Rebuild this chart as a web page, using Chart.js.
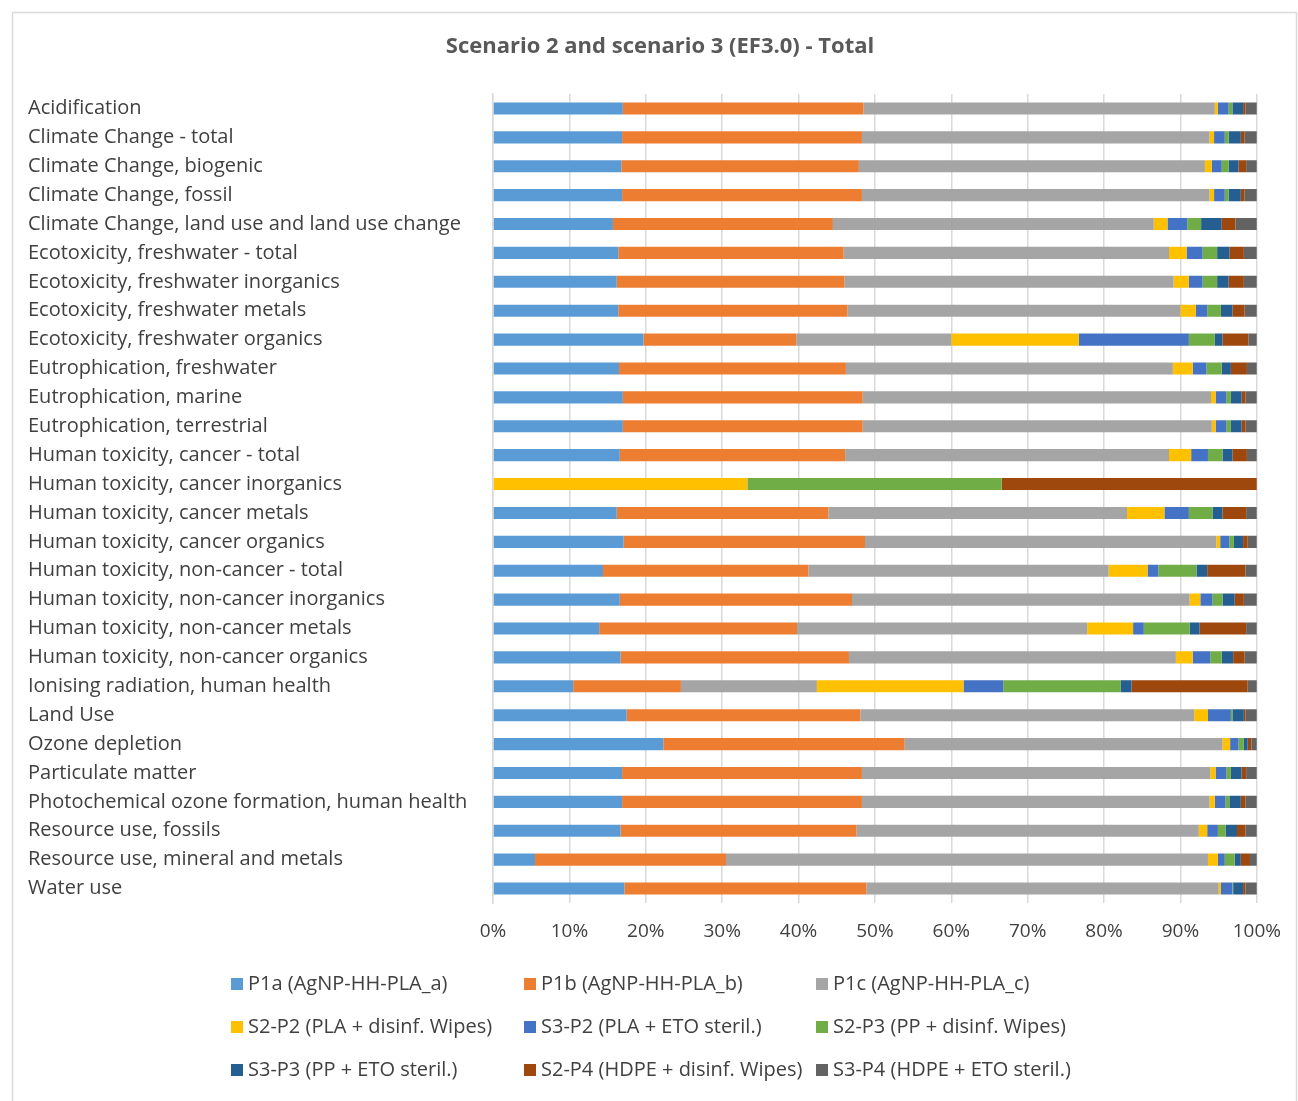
<!DOCTYPE html>
<html><head><meta charset="utf-8">
<script src="https://cdn.jsdelivr.net/npm/chart.js@4/dist/chart.umd.min.js"></script>
<style>html,body{margin:0;padding:0;background:#fff;}#wrap{position:relative;width:1298px;height:1101px;}</style>
</head><body><div id="wrap"><canvas id="c" width="1298" height="1101"></canvas></div>
<script>
const chartTitle = 'Scenario 2 and scenario 3 (EF3.0) - Total';
const categories = ["Acidification","Climate Change - total","Climate Change, biogenic","Climate Change, fossil","Climate Change, land use and land use change","Ecotoxicity, freshwater - total","Ecotoxicity, freshwater inorganics","Ecotoxicity, freshwater metals","Ecotoxicity, freshwater organics","Eutrophication, freshwater","Eutrophication, marine","Eutrophication, terrestrial","Human toxicity, cancer - total","Human toxicity, cancer inorganics","Human toxicity, cancer metals","Human toxicity, cancer organics","Human toxicity, non-cancer - total","Human toxicity, non-cancer inorganics","Human toxicity, non-cancer metals","Human toxicity, non-cancer organics","Ionising radiation, human health","Land Use","Ozone depletion","Particulate matter","Photochemical ozone formation, human health","Resource use, fossils","Resource use, mineral and metals","Water use"];
const seriesNames = ["P1a (AgNP-HH-PLA_a)","P1b (AgNP-HH-PLA_b)","P1c (AgNP-HH-PLA_c)","S2-P2 (PLA + disinf. Wipes)","S3-P2 (PLA + ETO steril.)","S2-P3 (PP + disinf. Wipes)","S3-P3 (PP + ETO steril.)","S2-P4 (HDPE + disinf. Wipes)","S3-P4 (HDPE + ETO steril.)"];
const P1a  = [17.0,16.9,16.8,16.9,15.7,16.4,16.2,16.4,19.7,16.5,17.0,17.0,16.6,0,16.2,17.1,14.4,16.6,13.9,16.7,10.5,17.5,22.3,16.9,16.9,16.7,5.5,17.2];
const P1b  = [31.5,31.4,31.1,31.4,28.8,29.5,29.8,30.0,20.0,29.7,31.4,31.4,29.5,0,27.7,31.6,26.9,30.4,25.9,29.9,14.1,30.6,31.6,31.4,31.4,30.9,25.0,31.7];
const P1c  = [46.0,45.5,45.3,45.5,42.0,42.6,43.1,43.6,20.3,42.8,45.6,45.7,42.4,0,39.1,46.0,39.3,44.2,38.0,42.8,17.8,43.7,41.6,45.6,45.5,44.8,63.1,46.1];
const S2P2 = [0.4,0.6,0.9,0.6,1.8,2.3,2.0,2.0,16.7,2.6,0.6,0.5,2.9,33.3,4.9,0.5,5.1,1.4,6.0,2.2,19.2,1.8,1.0,0.7,0.7,1.1,1.3,0.3];
const S3P2 = [1.4,1.4,1.3,1.4,2.6,2.1,1.8,1.5,14.4,1.8,1.4,1.4,2.2,0,3.2,1.2,1.4,1.6,1.4,2.3,5.2,3.0,1.1,1.4,1.4,1.4,0.9,1.5];
const S2P3 = [0.5,0.5,0.9,0.5,1.8,1.9,1.9,1.8,3.4,2.0,0.6,0.6,1.9,33.3,3.1,0.6,5.0,1.3,6.0,1.5,15.4,0.2,0.7,0.6,0.5,1.0,1.3,0.1];
const S3P3 = [1.4,1.6,1.3,1.6,2.7,1.6,1.5,1.5,1.0,1.2,1.4,1.4,1.3,0,1.3,1.2,1.4,1.6,1.3,1.5,1.4,1.5,0.5,1.4,1.5,1.5,0.8,1.3];
const S2P4 = [0.3,0.5,1.0,0.5,1.8,1.9,2.0,1.6,3.4,2.1,0.5,0.5,1.9,33.4,3.1,0.6,5.0,1.2,6.1,1.5,15.2,0.2,0.5,0.6,0.6,1.1,1.2,0.3];
const S3P4 = [1.5,1.6,1.4,1.6,2.8,1.7,1.7,1.6,1.1,1.3,1.5,1.5,1.3,0,1.4,1.2,1.5,1.7,1.4,1.6,1.2,1.5,0.7,1.4,1.5,1.5,0.9,1.5];
const colors = ["#5B9BD5","#ED7D31","#A5A5A5","#FFC000","#4472C4","#70AD47","#255E91","#9E480E","#636363"];
const seriesData = [P1a,P1b,P1c,S2P2,S3P2,S2P3,S3P3,S2P4,S3P4];

const FONT = "'Open Sans', 'Liberation Sans', sans-serif";

const borderPlugin = {
  id:'border',
  beforeDraw(chart){
    const ctx = chart.ctx;
    ctx.save();
    ctx.fillStyle = '#fff';
    ctx.fillRect(0,0,chart.width,chart.height);
    ctx.strokeStyle = '#d9d9d9';
    ctx.lineWidth = 1.5;
    ctx.strokeRect(12.5,12.5,1284,1100);
    ctx.restore();
  }
};

const titlePlugin = {
  id:'customTitle',
  afterDraw(chart){
    const ctx = chart.ctx;
    ctx.save();
    ctx.font = "bold 22px " + FONT;
    ctx.fillStyle = '#595959';
    ctx.textAlign = 'center';
    ctx.textBaseline = 'middle';
    ctx.fillText(chartTitle, 660, 47);
    ctx.restore();
  }
};

const legendPlugin = {
  id:'gridLegend',
  afterDraw(chart){
    const ctx = chart.ctx;
    const colX = [231,524,816];
    const rowY = [984,1027,1070];
    ctx.save();
    ctx.font = "20px " + FONT;
    ctx.textBaseline = 'middle';
    ctx.textAlign = 'left';
    chart.data.datasets.forEach((ds,i)=>{
      const x = colX[i%3], y = rowY[Math.floor(i/3)];
      ctx.fillStyle = ds.backgroundColor;
      ctx.fillRect(x, y-6, 12, 12);
      ctx.fillStyle = '#404040';
      ctx.fillText(ds.label, x+17, y);
    });
    ctx.restore();
  }
};

new Chart(document.getElementById('c'), {
  type:'bar',
  data:{
    labels: categories,
    datasets: seriesData.map((d,i)=>({label:seriesNames[i], data:d, backgroundColor:colors[i], borderWidth:0, barPercentage:0.42, categoryPercentage:1.0}))
  },
  plugins:[borderPlugin, titlePlugin, legendPlugin],
  options:{
    indexAxis:'y',
    responsive:false,
    animation:false,
    layout:{padding:{left:28, right:41, top:94, bottom:157}},
    plugins:{
      legend:{display:false},
      tooltip:{enabled:false},
      title:{display:false}
    },
    scales:{
      x:{
        stacked:true, min:0, max:100,
        ticks:{stepSize:10, callback:v=>v+'%', color:'#404040', font:{family:FONT, size:19}, padding:17},
        grid:{color:'#d9d9d9', lineWidth:1.5, drawTicks:false},
        border:{display:false},
        afterFit(s){ s.height = 41; }
      },
      y:{
        stacked:true,
        ticks:{crossAlign:'far', color:'#404040', font:{family:FONT, size:20}, autoSkip:false, padding:0},
        grid:{display:false, drawTicks:false},
        border:{display:true, color:'#d9d9d9', width:1.5},
        afterFit(s){ s.width = 465; }
      }
    }
  }
});
</script></body></html>
